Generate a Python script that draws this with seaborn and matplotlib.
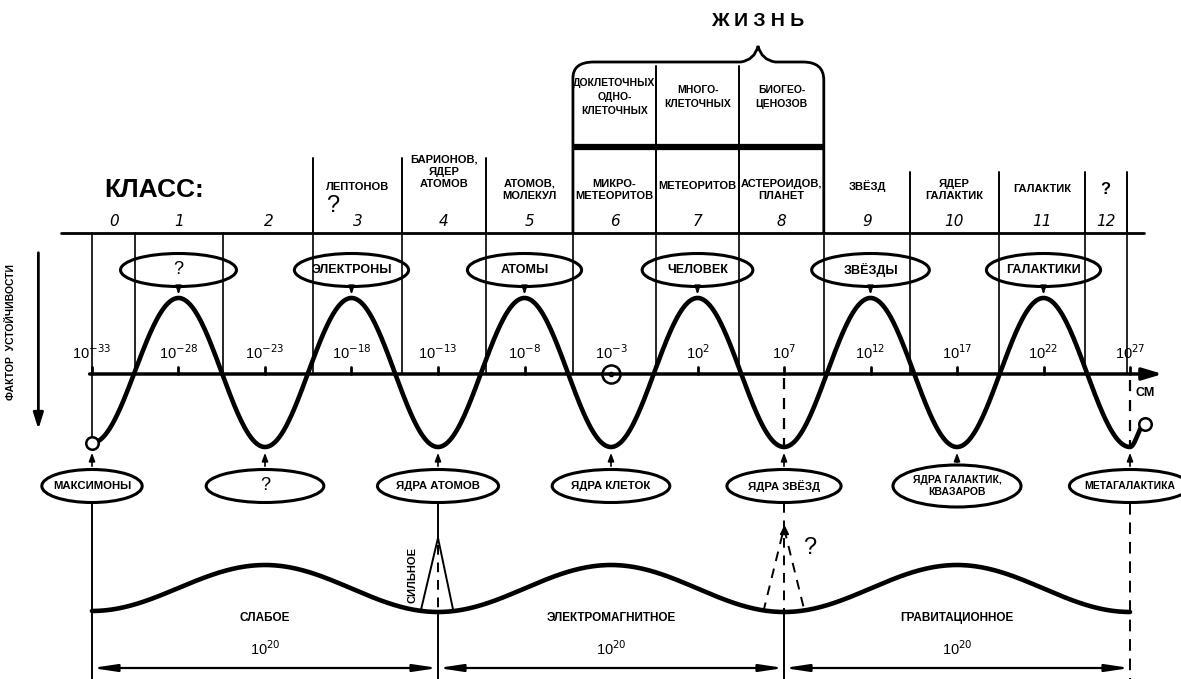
import numpy as np
import matplotlib
matplotlib.use("Agg")
import matplotlib.pyplot as plt
import seaborn as sns
from matplotlib.patches import Ellipse
from matplotlib.path import Path
from matplotlib.patches import PathPatch

# horizontal unit everywhere: log10 of size in cm
tick_exps = [-33, -28, -23, -18, -13, -8, -3, 2, 7, 12, 17, 22, 27]

# class cell boundaries and class labels
class_bounds = [-33, -30.5, -25.4, -20.2, -15.1, -10.2, -5.2, -0.4, 4.4, 9.3, 14.3, 19.4, 24.4, 26.8]
class_nums = ["0", "1", "2", "3", "4", "5", "6", "7", "8", "9", "10", "11", "12"]
class_names = ["", "", "", "ЛЕПТОНОВ", "БАРИОНОВ,\nЯДЕР\nАТОМОВ", "АТОМОВ,\nМОЛЕКУЛ",
               "МИКРО-\nМЕТЕОРИТОВ", "МЕТЕОРИТОВ", "АСТЕРОИДОВ,\nПЛАНЕТ", "ЗВЁЗД",
               "ЯДЕР\nГАЛАКТИК", "ГАЛАКТИК", "?"]
class_name_y = [0, 0, 0, 187, 172, 190, 190, 186, 190, 186, 190, 189, 189]
life_names = ["ДОКЛЕТОЧНЫХ\nОДНО-\nКЛЕТОЧНЫХ", "МНОГО-\nКЛЕТОЧНЫХ", "БИОГЕО-\nЦЕНОЗОВ"]

# stability wave extrema (vertical in picture rows)
wave_exps = [-33, -28, -23, -18, -13, -8, -3, 2, 7, 12, 17, 22, 27, 27.85]
wave_rows = [443, 298, 447, 298, 447, 298, 447, 298, 447, 298, 447, 298, 447, 424]

top_labels = ["?", "ЭЛЕКТРОНЫ", "АТОМЫ", "ЧЕЛОВЕК", "ЗВЁЗДЫ", "ГАЛАКТИКИ"]
top_exps = [-28, -18, -8, 2, 12, 22]
top_widths = [6.7, 6.6, 6.6, 6.4, 6.8, 6.6]
bottom_labels = ["МАКСИМОНЫ", "?", "ЯДРА АТОМОВ", "ЯДРА КЛЕТОК", "ЯДРА ЗВЁЗД",
                 "ЯДРА ГАЛАКТИК,\nКВАЗАРОВ", "МЕТАГАЛАКТИКА"]
bottom_exps = [-33, -23, -13, -3, 7, 17, 27]
bottom_widths = [5.8, 6.8, 7.0, 6.8, 6.6, 7.4, 7.0]

# interaction wave
force_exps = [-33, -23, -13, -3, 7, 17, 27]
force_rows = [611, 565, 612, 565, 612, 565, 612]
force_names = ["СЛАБОЕ", "ЭЛЕКТРОМАГНИТНОЕ", "ГРАВИТАЦИОННОЕ"]
force_centers = [-23, -3, 17]
force_spans = [(-33, -13), (-13, 7), (7, 27)]

FONT = ["Liberation Sans", "DejaVu Sans"]
PX = 17.3  # pixels per decade
X0 = -33 - 92 / PX
X1 = -33 + (1181 - 92) / PX


def eased(xs, ys, n=80):
    """Join extrema with half-cosine segments."""
    out_x, out_y = [], []
    for i in range(len(xs) - 1):
        t = np.linspace(0, 1, n)
        out_x.extend(xs[i] + (xs[i + 1] - xs[i]) * t)
        out_y.extend(ys[i] + (ys[i + 1] - ys[i]) * (1 - np.cos(np.pi * t)) / 2)
    return np.array(out_x), np.array(out_y)


sns.set_theme(style="white")
plt.rcParams["font.family"] = FONT

fig = plt.figure(figsize=(11.81, 6.79), dpi=100)
ax = fig.add_axes([0, 0, 1, 1])
ax.set_xlim(X0, X1)
ax.set_ylim(679, 0)
ax.axis("off")

K = "black"
txt = dict(ha="center", va="center", color=K, fontweight="bold")

# --- top: life brace and class table ---
ax.text(5.5, 22, "Ж И З Н Ь", fontsize=14, **txt)
lf, rt = class_bounds[6], class_bounds[9]
mid = 5.5
verts = [(lf, 233), (lf, 78), (lf, 62), (lf + 1.2, 62), (mid - 1.0, 62), (mid - 0.2, 60),
         (mid, 46), (mid + 0.2, 60), (mid + 1.0, 62), (rt - 1.2, 62), (rt, 62), (rt, 80), (rt, 233)]
codes = [Path.MOVETO, Path.LINETO, Path.CURVE3, Path.CURVE3, Path.LINETO, Path.CURVE3,
         Path.CURVE3, Path.CURVE3, Path.CURVE3, Path.LINETO, Path.CURVE3, Path.CURVE3, Path.LINETO]
ax.add_patch(PathPatch(Path(verts, codes), fill=False, lw=2, ec=K))
ax.plot([lf, rt], [147, 147], color=K, lw=4.5, solid_capstyle="butt")
for b in class_bounds[7:9]:
    ax.plot([b, b], [66, 233], color=K, lw=1.4)
for i, name in enumerate(life_names):
    cx = (class_bounds[6 + i] + class_bounds[7 + i]) / 2
    ax.text(cx, 97, name, fontsize=7.5, linespacing=1.55, **txt)

for b in class_bounds[3:6]:
    ax.plot([b, b], [158, 233], color=K, lw=1.4)
for b in class_bounds[10:]:
    ax.plot([b, b], [172, 233], color=K, lw=1.4)

ax.plot([-34.8, 27.8], [233, 233], color=K, lw=2)
ax.text(-29.4, 190, "КЛАСС:", fontsize=19, **txt)

for i, num in enumerate(class_nums):
    cx = (class_bounds[i] + class_bounds[i + 1]) / 2
    ax.text(cx, 222, num, fontsize=11, ha="center", va="center", style="italic",
            color=K, family=["DejaVu Sans"])
    if class_names[i]:
        fs = 12 if class_names[i] == "?" else 8
        ax.text(cx, class_name_y[i], class_names[i], fontsize=fs, linespacing=1.3, **txt)
ax.text(-19.1, 206, "?", fontsize=17, ha="center", va="center", color=K)

# --- middle: cell lines, size axis and stability wave ---
for b in class_bounds[1:]:
    ax.plot([b, b], [233, 374], color=K, lw=1.2)
ax.plot([-33, -33], [233, 440], color=K, lw=1.2)

ax.annotate("", xy=(X1 - 0.9, 374), xytext=(-33.3, 374),
            arrowprops=dict(arrowstyle="-|>,head_length=1.0,head_width=0.3", color=K, lw=2.5))
ax.text(27.9, 393, "СМ", fontsize=9, **txt)
for e in tick_exps:
    ax.plot([e, e], [367, 374], color=K, lw=2)
    ax.text(e, 353, f"10$^{{{e}}}$", fontsize=10.5, ha="center", va="center", color=K)

wx, wy = eased(wave_exps, wave_rows)
sns.lineplot(x=wx, y=wy, ax=ax, color=K, lw=3.3, sort=False, estimator=None)
ax.plot([wave_exps[0], wave_exps[-1]], [wave_rows[0], wave_rows[-1]], "o", ms=9,
        mfc="white", mec=K, mew=1.8)
ax.plot([-3], [374], "o", ms=13, mfc="white", mec=K, mew=1.8)
ax.plot([-3], [374], "o", ms=3, color=K)

ax.plot([7, 7], [378, 446], color=K, lw=1.6, ls=(0, (5, 4)))
ax.plot([27, 27], [380, 447], color=K, lw=1.6, ls=(0, (5, 4)))

for lab, e, w in zip(top_labels, top_exps, top_widths):
    ax.add_patch(Ellipse((e, 270), w, 33, fc="white", ec=K, lw=2.2))
    if lab == "?":
        ax.text(e, 270, lab, fontsize=13, ha="center", va="center", color=K)
    else:
        ax.text(e, 270, lab, fontsize=9, **txt)
    ax.annotate("", xy=(e, 297), xytext=(e, 287),
                arrowprops=dict(arrowstyle="-|>,head_length=0.4,head_width=0.15", color=K, lw=1.2))

for lab, e, w in zip(bottom_labels, bottom_exps, bottom_widths):
    h = 42 if "\n" in lab else 33
    ax.add_patch(Ellipse((e, 486), w, h, fc="white", ec=K, lw=2.2))
    if lab == "?":
        ax.text(e, 486, lab, fontsize=13, ha="center", va="center", color=K)
    else:
        fs = 7.5 if len(lab) > 12 else 8.2
        ax.text(e, 486, lab, fontsize=fs, linespacing=1.25, **txt)
    ax.annotate("", xy=(e, 450), xytext=(e, 469 if h == 33 else 465),
                arrowprops=dict(arrowstyle="-|>,head_length=0.4,head_width=0.15", color=K, lw=1.2))

# left stability arrow
ax.text(-37.7, 332, "ФАКТОР  УСТОЙЧИВОСТИ", rotation=90, fontsize=7.5, **txt)
ax.annotate("", xy=(-36.1, 432), xytext=(-36.1, 250),
            arrowprops=dict(arrowstyle="-|>,head_length=0.8,head_width=0.25", color=K, lw=2))

# --- bottom: interactions ---
fx, fy = eased(force_exps, force_rows)
sns.lineplot(x=fx, y=fy, ax=ax, color=K, lw=3.3, sort=False, estimator=None)
for name, c in zip(force_names, force_centers):
    ax.text(c, 618, name, fontsize=8.5, **txt)
    ax.text(c, 649, "10$^{20}$", fontsize=10.5, ha="center", va="center", color=K)
for a, b in force_spans:
    ax.annotate("", xy=(b, 668), xytext=(a, 668),
                arrowprops=dict(arrowstyle="<|-|>,head_length=1.2,head_width=0.18",
                                color=K, lw=1.6, shrinkA=0, shrinkB=0))

ax.plot([-33, -33], [503, 679], color=K, lw=1.4)
# strong interaction
ax.plot([-13, -13], [503, 540], color=K, lw=1.4)
ax.plot([-13, -13], [612, 679], color=K, lw=1.4)
ax.plot([-13, -13], [545, 610], color=K, lw=1.4, ls=(0, (5, 4)))
ax.plot([-14.0, -13, -12.1], [611, 538, 612], color=K, lw=1.4)
ax.text(-14.5, 575, "СИЛЬНОЕ", rotation=90, fontsize=8, **txt)
# unknown interaction
ax.plot([7, 7], [503, 612], color=K, lw=1.4, ls=(0, (5, 4)))
ax.plot([7, 7], [612, 679], color=K, lw=1.4)
ax.plot([5.8, 7, 8.2], [612, 528, 612], color=K, lw=1.4, ls=(0, (5, 4)))
ax.plot([7], [530], marker="^", ms=6, color=K)
ax.text(8.5, 548, "?", fontsize=17, ha="center", va="center", color=K)
ax.plot([27, 27], [503, 679], color=K, lw=1.4, ls=(0, (6, 4)))

fig.savefig("out.png", dpi=100)
